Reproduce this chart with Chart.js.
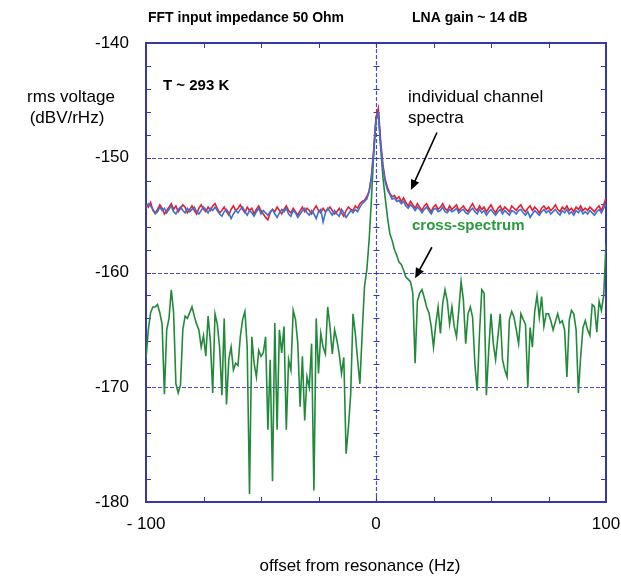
<!DOCTYPE html>
<html>
<head>
<meta charset="utf-8">
<script src="https://cdn.jsdelivr.net/npm/chart.js@4.4.0/dist/chart.umd.min.js"></script>
<style>
  html, body { margin: 0; padding: 0; background: #fff; }
</style>
</head>
<body>
<canvas id="myChart" width="621" height="581"></canvas>
<script>
(function () {
  'use strict';

  /**
   * frequency grid (Hz offset from resonance), one point per Hz
   */
  var FREQ_START = -100;
  var FREQ_STEP = 1;

  // individual channel spectrum A (red), dBV/rHz, -100 .. 100 Hz
  var channelA = [
    -154.0, -154.3, -153.9, -154.6, -154.8, -154.5, -154.1, -154.4, -154.9, -154.6,
    -154.3, -154.0, -154.5, -154.2, -154.7, -154.4, -154.1, -154.3, -154.8, -154.5,
    -154.2, -154.6, -154.9, -154.4, -154.1, -154.5, -154.7, -154.3, -154.6, -154.2,
    -154.0, -154.4, -154.8, -154.6, -154.3, -154.7, -155.0, -154.5, -154.2, -154.6,
    -154.4, -154.1, -154.5, -154.8, -154.3, -154.6, -154.4, -154.9, -154.5, -154.2,
    -154.6, -154.9, -155.2, -155.4, -154.8, -154.5, -154.7, -154.3, -154.6, -154.9,
    -154.5, -154.2, -154.6, -154.8, -154.4, -154.7, -155.0, -154.6, -154.3, -154.7,
    -154.4, -154.6, -154.9, -154.5, -154.2, -154.6, -154.8, -154.4, -154.7, -154.5,
    -154.3, -154.6, -154.9, -154.7, -154.4, -154.8, -155.1, -154.6, -154.3, -154.5,
    -154.6, -154.2, -154.4, -154.0, -153.8, -153.7, -153.4, -152.9, -151.6, -149.3,
    -146.5,
    -145.7, -148.5, -150.6, -151.9, -152.6, -153.1, -153.4, -153.3, -153.6, -153.4,
    -153.8, -153.5, -153.9, -154.2, -153.8, -154.1, -154.4, -154.0, -154.3, -154.6,
    -154.2, -154.0, -154.4, -154.7, -154.3, -154.1, -154.5, -154.3, -154.0, -154.4,
    -154.6, -154.2, -154.5, -154.3, -154.1, -154.6, -154.4, -154.2, -154.5, -154.7,
    -154.3, -154.0, -154.4, -154.6, -154.2, -154.5, -154.3, -154.7, -154.4, -154.1,
    -154.5, -154.8, -154.4, -154.2, -154.6, -154.3, -154.5, -154.7, -154.2, -154.4,
    -154.6, -154.3, -154.1, -154.5, -154.7, -154.4, -154.2, -154.6, -154.3, -154.5,
    -154.8, -154.4, -154.2, -154.5, -154.3, -154.6, -154.4, -154.1, -154.5, -154.7,
    -154.3, -154.5, -154.2, -154.6, -154.4, -154.7, -154.3, -154.5, -154.2, -154.6,
    -154.4, -154.6, -154.3, -154.5, -154.7, -154.4, -154.2, -154.6, -154.1, -153.5
  ];

  // individual channel spectrum B (blue)
  var channelB = [
    -154.3, -154.0, -154.2, -154.5, -154.9, -154.7, -154.3, -154.6, -154.4, -154.8,
    -154.5, -154.2, -154.7, -154.9, -154.5, -154.3, -154.6, -154.8, -154.4, -154.7,
    -154.5, -154.3, -154.7, -154.9, -154.6, -154.3, -154.5, -154.8, -154.4, -154.6,
    -154.3, -154.6, -154.9, -155.1, -154.7, -154.5, -154.8, -155.3, -154.9, -154.6,
    -154.8, -154.5, -154.3, -154.7, -155.0, -154.6, -154.8, -155.1, -154.7, -154.4,
    -154.9, -154.6, -154.8, -155.0, -154.7, -154.5, -154.9, -155.2, -154.8, -154.5,
    -154.7, -154.4, -154.9, -155.1, -154.6, -154.8, -155.2, -154.9, -154.6, -154.4,
    -154.8, -155.0, -154.6, -154.9, -155.3, -154.7, -154.5, -155.6, -154.8, -154.4,
    -154.7, -155.0, -154.6, -154.9, -155.1, -154.5, -154.8, -155.2, -154.9, -154.6,
    -154.8, -154.5, -154.7, -154.3, -154.0, -153.8, -153.6, -153.0, -151.8, -149.6,
    -146.8,
    -146.1, -148.8, -150.9, -152.1, -152.8, -153.2, -153.6, -153.5, -153.8, -153.7,
    -154.0, -153.8, -154.2, -154.4, -154.1, -154.3, -154.6, -154.3, -154.5, -154.8,
    -154.5, -154.3, -154.6, -154.9, -154.5, -154.4, -154.7, -154.6, -154.3, -154.7,
    -154.8, -154.5, -154.7, -154.6, -154.4, -154.8, -154.6, -154.5, -154.8, -154.9,
    -154.6, -154.4, -154.7, -154.9, -154.5, -154.8, -154.6, -155.0, -154.7, -154.5,
    -154.8, -155.0, -154.7, -154.5, -154.9, -154.6, -154.8, -155.0, -154.6, -154.7,
    -154.9, -154.6, -154.5, -154.8, -155.0, -154.7, -155.2, -154.9, -154.6, -154.8,
    -155.0, -154.7, -154.5, -154.8, -154.6, -154.9, -154.7, -154.5, -154.8, -155.0,
    -154.6, -154.8, -154.5, -154.9, -154.7, -155.0, -154.6, -154.8, -154.5, -154.9,
    -154.7, -154.9, -154.6, -154.8, -155.0, -154.7, -154.5, -154.8, -154.4, -154.0
  ];

  // cross-spectrum (green)
  var crossSpectrum = [
    -167.5, -165.0, -163.5, -163.0, -163.0, -162.8, -163.5, -164.5, -170.6, -165.0,
    -164.0, -161.5, -163.5, -169.7, -170.5, -169.8, -165.0, -163.8, -164.0, -163.5,
    -163.0, -163.8, -164.5, -165.0, -166.5, -165.5, -167.3, -163.8, -166.0, -170.5,
    -163.6, -164.5, -166.5, -170.7, -164.0, -171.5, -167.6, -166.5, -168.5, -167.9,
    -168.1, -165.6, -164.1, -163.4, -166.5, -179.3, -165.6, -167.9, -169.1, -166.8,
    -167.3, -167.0, -165.6, -173.7, -167.6, -178.2, -164.4, -173.7, -165.0, -167.0,
    -164.7, -173.7, -167.6, -168.5, -163.3, -164.1, -166.2, -171.7, -167.3, -172.9,
    -169.1, -170.0, -166.2, -179.0, -164.0, -168.8, -165.3, -166.5, -167.1, -163.0,
    -164.7, -167.1, -165.0, -165.9, -167.1, -168.8, -167.4, -175.8, -173.5, -170.6,
    -163.6, -165.3, -167.6, -169.7, -165.3, -161.2, -159.8, -157.2, -153.7, -149.6,
    -146.5,
    -146.0, -149.0, -151.7, -153.5, -155.2, -156.6, -157.2, -158.0, -158.5, -159.1,
    -159.3, -159.8, -160.4, -160.6, -160.8, -161.8, -167.9, -162.5, -161.8, -161.5,
    -162.2, -163.0, -163.5, -164.7, -166.5, -164.5, -163.0, -165.3, -162.7, -161.5,
    -162.5, -164.5, -163.0, -164.7, -165.6, -163.3, -160.8, -162.4, -166.2, -163.6,
    -163.0, -163.9, -168.0, -170.3, -165.3, -161.5, -161.8, -170.7, -166.8, -163.6,
    -166.2, -167.6, -165.6, -163.6, -167.6, -168.5, -169.1, -164.1, -163.4, -163.9,
    -165.0, -166.2, -163.6, -164.1, -164.5, -170.0, -164.8, -166.5, -163.4, -162.0,
    -163.9, -162.1, -164.7, -163.6, -163.6, -164.2, -165.0, -164.3, -163.6, -164.4,
    -164.2, -165.0, -169.1, -164.2, -163.3, -163.6, -165.0, -170.5, -167.3, -164.8,
    -164.2, -165.0, -165.5, -162.8, -163.0, -165.2, -162.5, -163.3, -162.0, -157.5
  ];

  var xTickLabels = [-100, 0, 100];
  var yTickLabels = [-140, -150, -160, -170, -180];
  var gridY = [-150, -160, -170];
  var gridX = [0];

  var FONT = '"Liberation Sans", Arial, sans-serif';
  var FRAME = '#3737a8';
  var GRID = '#4d4dcc';

  /**
   * turn a list of values into {x, y} points on the frequency grid
   * @param values
   */
  function toPoints(values) {
    return values.map(function (v, i) {
      return { x: FREQ_START + i * FREQ_STEP, y: v };
    });
  }

  /**
   * draw a line with a filled arrow head at the end
   */
  function arrow(ctx, x1, y1, x2, y2) {
    var ang = Math.atan2(y2 - y1, x2 - x1);
    var head = 11, wing = 0.42;
    ctx.beginPath();
    ctx.moveTo(x1, y1);
    ctx.lineTo(x2 - Math.cos(ang) * head * 0.7, y2 - Math.sin(ang) * head * 0.7);
    ctx.stroke();
    ctx.beginPath();
    ctx.moveTo(x2, y2);
    ctx.lineTo(x2 - head * Math.cos(ang - wing), y2 - head * Math.sin(ang - wing));
    ctx.lineTo(x2 - head * Math.cos(ang + wing), y2 - head * Math.sin(ang + wing));
    ctx.closePath();
    ctx.fill();
  }

  /**
   * frame, dashed grid and inward ticks (drawn under the traces)
   */
  var framePlugin = {
    id: 'frame',
    beforeDatasetsDraw: function (chart) {
      var ctx = chart.ctx;
      var a = chart.chartArea;
      var sx = chart.scales.x;
      var sy = chart.scales.y;
      var v, p;

      ctx.save();
      ctx.lineWidth = 1.2;
      ctx.strokeStyle = GRID;
      ctx.setLineDash([4, 2]);
      gridY.forEach(function (g) {
        p = Math.round(sy.getPixelForValue(g)) + 0.5;
        ctx.beginPath();
        ctx.moveTo(a.left, p);
        ctx.lineTo(a.right, p);
        ctx.stroke();
      });
      gridX.forEach(function (g) {
        p = Math.round(sx.getPixelForValue(g)) + 0.5;
        ctx.beginPath();
        ctx.moveTo(p, a.top);
        ctx.lineTo(p, a.bottom);
        ctx.stroke();
      });
      ctx.setLineDash([]);

      // minor ticks every 2 dB on left / right / zero line
      ctx.lineWidth = 1;
      ctx.strokeStyle = FRAME;
      var z = Math.round(sx.getPixelForValue(0)) + 0.5;
      for (v = -178; v < -140; v += 2) {
        p = Math.round(sy.getPixelForValue(v)) + 0.5;
        ctx.beginPath();
        ctx.moveTo(a.left, p); ctx.lineTo(a.left + 5, p);
        ctx.moveTo(a.right, p); ctx.lineTo(a.right - 5, p);
        ctx.moveTo(z - 3, p); ctx.lineTo(z + 3, p);
        ctx.stroke();
      }
      // minor ticks every 25 Hz top / bottom
      for (v = -75; v < 100; v += 25) {
        p = Math.round(sx.getPixelForValue(v)) + 0.5;
        ctx.beginPath();
        ctx.moveTo(p, a.bottom); ctx.lineTo(p, a.bottom - 5);
        ctx.moveTo(p, a.top); ctx.lineTo(p, a.top + 5);
        ctx.stroke();
      }

      // frame
      ctx.lineWidth = 2;
      ctx.strokeRect(a.left, a.top, a.right - a.left, a.bottom - a.top);
      ctx.restore();
    },

    afterDraw: function (chart) {
      var ctx = chart.ctx;
      var sx = chart.scales.x;
      var sy = chart.scales.y;

      ctx.save();
      ctx.fillStyle = '#000';
      ctx.textBaseline = 'middle';
      ctx.textAlign = 'left';

      ctx.font = 'bold 14px ' + FONT;
      ctx.fillText('FFT input impedance 50 Ohm', 148, 18);
      ctx.fillText('LNA gain ~ 14 dB', 412, 18);
      ctx.font = 'bold 15px ' + FONT;
      ctx.fillText('T ~ 293 K', 163, 86);

      ctx.font = '17px ' + FONT;
      ctx.fillText('individual channel', 408, 97);
      ctx.fillText('spectra', 408, 118);

      ctx.textAlign = 'center';
      ctx.fillText('rms voltage', 71, 97);
      ctx.fillText('(dBV/rHz)', 67, 118);
      ctx.fillText('offset from resonance (Hz)', 360, 566);

      ctx.textAlign = 'left';
      ctx.font = 'bold 15px ' + FONT;
      ctx.fillStyle = '#2a9a3c';
      ctx.fillText('cross-spectrum', 412, 226);

      // arrows, placed in data coordinates
      ctx.strokeStyle = '#000';
      ctx.fillStyle = '#000';
      ctx.lineWidth = 1.6;
      arrow(ctx, sx.getPixelForValue(26.5), sy.getPixelForValue(-147.8),
        sx.getPixelForValue(15.2), sy.getPixelForValue(-152.8));
      arrow(ctx, sx.getPixelForValue(24.3), sy.getPixelForValue(-157.8),
        sx.getPixelForValue(17.0), sy.getPixelForValue(-160.5));
      ctx.restore();
    }
  };

  var canvas = document.getElementById('myChart');
  var ctx = canvas.getContext('2d');

  var dataChart = {
    datasets: [
      { label: 'channel B', data: toPoints(channelB), borderColor: '#3d70d2', borderWidth: 1.6 },
      { label: 'channel A', data: toPoints(channelA), borderColor: '#e3202c', borderWidth: 1.6 },
      { label: 'cross-spectrum', data: toPoints(crossSpectrum), borderColor: '#23893a', borderWidth: 1.6 }
    ]
  };

  var settings = {
    type: 'line',
    data: dataChart,
    plugins: [framePlugin],
    options: {
      responsive: false,
      animation: false,
      events: [],
      layout: { padding: { left: 0, top: 43, right: 15, bottom: 0 } },
      elements: {
        point: { radius: 0 },
        line: { tension: 0, fill: false }
      },
      plugins: {
        legend: { display: false },
        tooltip: { enabled: false }
      },
      scales: {
        x: {
          type: 'linear',
          min: -100,
          max: 100,
          afterFit: function (s) {
            s.height = 79;
            s.paddingLeft = 0;
            s.paddingRight = 0;
          },
          afterBuildTicks: function (s) {
            s.ticks = xTickLabels.map(function (v) { return { value: v }; });
          },
          grid: { display: false, drawTicks: false },
          border: { display: false },
          ticks: {
            color: '#000',
            padding: 12,
            maxRotation: 0,
            autoSkip: false,
            font: { family: FONT, size: 17 },
            callback: function (v) { return v === -100 ? '- 100' : String(v); }
          },
          title: { display: false }
        },
        y: {
          min: -180,
          max: -140,
          afterFit: function (s) { s.width = 146; },
          afterBuildTicks: function (s) {
            s.ticks = yTickLabels.map(function (v) { return { value: v }; });
          },
          grid: { display: false, drawTicks: false },
          border: { display: false },
          ticks: {
            color: '#000',
            padding: 17,
            font: { family: FONT, size: 17 }
          }
        }
      }
    }
  };

  var myNewChart = new Chart(ctx, settings);
})();
</script>
</body>
</html>
